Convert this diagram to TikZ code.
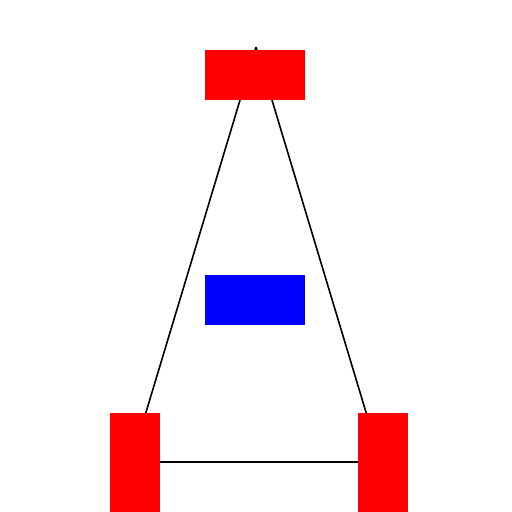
\documentclass[tikz,border=0pt]{standalone}
\usetikzlibrary{backgrounds}
\begin{document}
\begin{tikzpicture}[x=1pt,y=-1pt,
  redbox/.style={fill={rgb,255:red,255;green,0;blue,0},inner sep=0pt,outer sep=0pt},
  bluebox/.style={fill={rgb,255:red,0;green,0;blue,255},inner sep=0pt,outer sep=0pt,minimum width=100pt,minimum height=50pt},
  link/.style={draw=black,line width=1.6pt}]
\useasboundingbox (0,0) rectangle (512,512);
\node[redbox,minimum width=100pt,minimum height=50pt] (top) at (255,75) {};
\node[redbox,minimum width=50pt,minimum height=100pt] (bl) at (135,462.5) {};
\node[redbox,minimum width=50pt,minimum height=100pt] (br) at (383,462.5) {};
\node[bluebox] (mid) at (255,300) {};
\coordinate (apex) at (256,47);
\coordinate (blend) at ([xshift=-4pt,yshift=0.5pt]bl.center);
\coordinate (brend) at ([xshift=-2pt,yshift=0.5pt]br.center);
\begin{pgfonlayer}{background}
\draw[link] (apex) -- (blend);
\draw[link] (apex) -- (brend);
\draw[link] (blend) -- (brend);
\end{pgfonlayer}
\end{tikzpicture}
\end{document}
